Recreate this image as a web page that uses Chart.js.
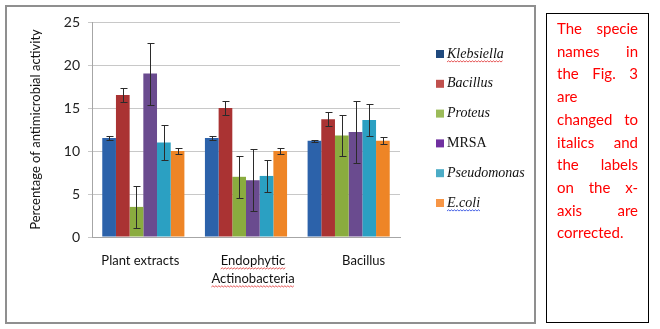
<!DOCTYPE html>
<html>
<head>
<meta charset="utf-8">
<script src="https://cdn.jsdelivr.net/npm/chart.js@4/dist/chart.umd.min.js"></script>
<style>
  html, body { margin: 0; padding: 0; background: #fff; }
  body { width: 660px; height: 329px; position: relative; overflow: hidden; }
  #chartBox { position: absolute; left: 0; top: 0; }
  #frame {
    position: absolute; left: 5px; top: 5px; width: 531px; height: 319px;
    box-sizing: border-box; border: 2px solid #8f8f8f; pointer-events: none;
  }
  #note {
    position: absolute; left: 546px; top: 13px; width: 103px; height: 310px;
    box-sizing: border-box; border: 1.5px solid #000;
    padding: 3px 10px 0 10px;
    font-family: Lato, sans-serif; font-size: 15px; line-height: 22.7px;
    color: #ff0000; text-align: justify; text-align-last: justify;
  }
</style>
</head>
<body>
<canvas id="chartBox" width="540" height="329"></canvas>
<div id="frame"></div>
<div id="note">The specie<br>names in<br>the Fig. 3<br>are<br>changed to<br>italics and<br>the labels<br>on the x-<br>axis are<br>corrected.</div>
<script>
// groups on the x axis
const categories = ["Plant extracts", ["Endophytic", "Actinobacteria"], "Bacillus"];
const species = ["Klebsiella", "Bacillus", "Proteus", "MRSA", "Pseudomonas", "E.coli"];

// mean activity (%) per group
const klebsiella = [11.5, 11.5, 11.2];
const bacillus = [16.5, 15.0, 13.7];
const proteus = [3.5, 7.0, 11.8];
const mrsa = [19.0, 6.6, 12.2];
const pseudomonas = [11.0, 7.1, 13.6];
const ecoli = [10.0, 10.0, 11.2];

// error bar half-widths
const klebsiellaErr = [0.2, 0.2, 0.1];
const bacillusErr = [0.85, 0.85, 0.8];
const proteusErr = [2.4, 2.45, 2.4];
const mrsaErr = [3.6, 3.6, 3.6];
const pseudomonasErr = [2.0, 1.9, 1.9];
const ecoliErr = [0.4, 0.4, 0.4];

const yTicks = [0, 5, 10, 15, 20, 25];

const barColors = ["#2c62aa", "#aa3333", "#8aac3f", "#6a4b8f", "#2ba0c2", "#ee8526"];
const legendColors = ["#1f497d", "#c0504d", "#9bbb59", "#7030a0", "#4bacc6", "#f79646"];
const legendItalic = [true, true, true, false, true, true];
const labelNudge = [-3, 7, 15];

const seriesValues = [klebsiella, bacillus, proteus, mrsa, pseudomonas, ecoli];
const seriesErrors = [klebsiellaErr, bacillusErr, proteusErr, mrsaErr, pseudomonasErr, ecoliErr];

function squiggle(ctx, x1, x2, y, color) {
  ctx.save();
  ctx.strokeStyle = color;
  ctx.lineWidth = 0.8;
  ctx.beginPath();
  ctx.moveTo(x1, y);
  let up = true;
  for (let x = x1 + 1.5; x <= x2; x += 1.5) {
    ctx.lineTo(x, up ? y - 1.2 : y);
    up = !up;
  }
  ctx.stroke();
  ctx.restore();
}

// vertical error bars with caps
const errorBars = {
  id: "errorBars",
  afterDatasetsDraw(chart) {
    const ctx = chart.ctx;
    const y = chart.scales.y;
    ctx.save();
    ctx.strokeStyle = "#2b2b2b";
    ctx.lineWidth = 1;
    chart.data.datasets.forEach((ds, i) => {
      chart.getDatasetMeta(i).data.forEach((bar, j) => {
        const v = ds.data[j];
        const e = seriesErrors[i][j];
        const x = Math.round(bar.x) + 0.5;
        const t = Math.round(y.getPixelForValue(v + e)) + 0.5;
        const b = Math.round(y.getPixelForValue(v - e)) + 0.5;
        ctx.beginPath();
        ctx.moveTo(x, t); ctx.lineTo(x, b);
        ctx.moveTo(x - 3, t); ctx.lineTo(x + 4, t);
        ctx.moveTo(x - 3, b); ctx.lineTo(x + 4, b);
        ctx.stroke();
      });
    });
    ctx.restore();
  }
};

// category labels and the legend on the right
const sideDecor = {
  id: "sideDecor",
  afterDraw(chart) {
    const ctx = chart.ctx;
    const xs = chart.scales.x;
    ctx.save();
    ctx.fillStyle = "#111";
    ctx.font = "13px Lato, sans-serif";
    ctx.textAlign = "center";
    ctx.textBaseline = "middle";
    categories.forEach((c, i) => {
      const cx = xs.getPixelForValue(i) + labelNudge[i];
      const lines = Array.isArray(c) ? c : [c];
      lines.forEach((ln, k) => {
        const ly = 261 + k * 18;
        ctx.fillText(ln, cx, ly);
        if (Array.isArray(c)) {
          const w = ctx.measureText(ln).width;
          squiggle(ctx, cx - w / 2, cx + w / 2, ly + 8, "#e03030");
        }
      });
    });

    ctx.textAlign = "left";
    chart.data.datasets.forEach((ds, i) => {
      const ry = 54 + i * 29.8;
      ctx.fillStyle = legendColors[i];
      ctx.fillRect(436, ry - 4, 8, 8);
      ctx.fillStyle = "#111";
      ctx.font = (legendItalic[i] ? "italic " : "") + "14px 'Liberation Serif', serif";
      ctx.fillText(ds.label, 447, ry);
      const w = ctx.measureText(ds.label).width;
      if (ds.label === "Klebsiella") squiggle(ctx, 447, 447 + w, ry + 8, "#e03030");
      if (ds.label === "E.coli") squiggle(ctx, 447, 447 + w, ry + 8, "#2040e0");
    });
    ctx.restore();
  }
};

const chart = new Chart(document.getElementById("chartBox"), {
  type: "bar",
  data: {
    labels: categories,
    datasets: species.map((name, i) => ({
      label: name,
      data: seriesValues[i],
      backgroundColor: barColors[i],
      borderWidth: 0,
      categoryPercentage: 0.8,
      barPercentage: 1.0,
    })),
  },
  options: {
    responsive: false,
    animation: false,
    layout: {
      padding: { left: 22, top: 22, right: 140, bottom: 0 },
    },
    plugins: {
      legend: { display: false },
      tooltip: { enabled: false },
    },
    scales: {
      x: {
        ticks: { display: false },
        grid: { display: false },
        border: { display: true, color: "#a6a6a6" },
        afterFit: (scale) => { scale.height = 92; },
      },
      y: {
        min: 0,
        max: 25,
        afterBuildTicks: (scale) => { scale.ticks = yTicks.map((v) => ({ value: v })); },
        ticks: {
          color: "#222",
          padding: 8,
          font: { family: "Lato", size: 14 },
        },
        grid: { color: "#c8c8c8", tickLength: 4 },
        border: { display: true, color: "#a6a6a6" },
        title: {
          display: true,
          text: "Percentage of antimicrobial activity",
          color: "#111",
          font: { family: "Lato", size: 13 },
          padding: { top: 6, bottom: 0 },
        },
        afterFit: (scale) => { scale.width = 70; },
      },
    },
  },
  plugins: [errorBars, sideDecor],
});
</script>
</body>
</html>
